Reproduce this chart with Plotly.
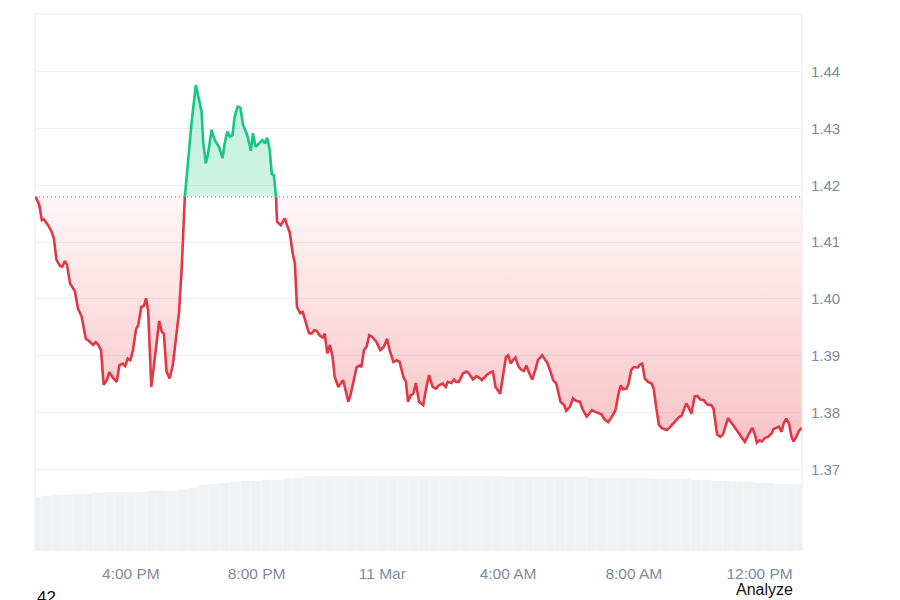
import plotly.graph_objects as go
import pandas as pd

# ---------------- data ----------------
START_DAY = "2025-03-10"
BASE_PRICE = 1.4180  # opening price (dotted reference line)

price_times = [
    "12:58", "13:05", "13:10", "13:14", "13:22", "13:29", "13:33", "13:38", "13:45", "13:49",
    "13:54", "13:58", "14:04", "14:09", "14:13", "14:19", "14:26", "14:34", "14:40", "14:48",
    "14:53", "14:58", "15:03", "15:08", "15:14", "15:19", "15:26", "15:33", "15:38", "15:44",
    "15:49", "15:54", "15:59", "16:04", "16:10", "16:14", "16:20", "16:25", "16:29", "16:33",
    "16:39", "16:44", "16:54", "16:59", "17:03", "17:08", "17:14", "17:20", "17:27", "17:32",
    "17:37", "17:40", "17:43", "17:49", "17:56", "18:04", "18:10", "18:15", "18:18", "18:23",
    "18:27", "18:34", "18:40", "18:48", "18:55", "18:59", "19:04", "19:09", "19:14", "19:18",
    "19:24", "19:29", "19:34", "19:42", "19:49", "19:53", "19:58", "20:05", "20:11", "20:16",
    "20:20", "20:25", "20:29", "20:33", "20:37", "20:39", "20:46", "20:54", "20:58", "21:03",
    "21:09", "21:13", "21:17", "21:23", "21:28", "21:34", "21:40", "21:45", "21:50", "21:54",
    "22:01", "22:06", "22:10", "22:15", "22:20", "22:25", "22:29", "22:36", "22:45", "22:50",
    "22:55", "22:59", "23:06", "23:11", "23:17", "23:20", "23:25", "23:30", "23:35", "23:41",
    "23:49", "23:56", "00:03", "00:09", "00:14", "00:21", "00:27", "00:33", "00:40", "00:45",
    "00:49", "00:54", "00:59", "01:04", "01:10", "01:18", "01:23", "01:29", "01:36", "01:42",
    "01:48", "01:55", "02:01", "02:05", "02:12", "02:17", "02:21", "02:26", "02:34", "02:41",
    "02:45", "02:53", "03:00", "03:04", "03:10", "03:19", "03:27", "03:31", "03:36", "03:41",
    "03:45", "03:50", "03:56", "04:00", "04:05", "04:09", "04:14", "04:19", "04:24", "04:30",
    "04:35", "04:39", "04:46", "04:52", "04:57", "05:05", "05:10", "05:15", "05:21", "05:26",
    "05:32", "05:40", "05:47", "05:51", "05:58", "06:04", "06:10", "06:17", "06:23", "06:30",
    "06:34", "06:40", "06:47", "06:53", "06:58", "07:04", "07:11", "07:17", "07:25", "07:30",
    "07:35", "07:39", "07:46", "07:50", "07:55", "08:00", "08:07", "08:11", "08:16", "08:21",
    "08:27", "08:34", "08:38", "08:43", "08:48", "08:54", "09:03", "09:10", "09:18", "09:26",
    "09:31", "09:40", "09:45", "09:50", "09:56", "10:01", "10:07", "10:13", "10:20", "10:28",
    "10:32", "10:39", "10:45", "10:50", "11:00", "11:06", "11:14", "11:23", "11:32", "11:40",
    "11:46", "11:51", "11:55", "12:00", "12:05", "12:10", "12:16", "12:23", "12:27", "12:32",
    "12:37", "12:42", "12:46", "12:51", "12:56", "13:01", "13:05", "13:10", "13:15", "13:20",
]

price_values = [
    1.4180, 1.4166, 1.4139, 1.4140, 1.4130, 1.4118, 1.4107, 1.4069, 1.4058, 1.4057,
    1.4067, 1.4060, 1.4027, 1.4019, 1.4014, 1.3983, 1.3969, 1.3930, 1.3926, 1.3919,
    1.3924, 1.3919, 1.3910, 1.3849, 1.3857, 1.3871, 1.3861, 1.3854, 1.3883, 1.3886,
    1.3882, 1.3895, 1.3892, 1.3910, 1.3947, 1.3954, 1.3986, 1.3988, 1.4001, 1.3979,
    1.3845, 1.3883, 1.3961, 1.3942, 1.3939, 1.3872, 1.3860, 1.3883, 1.3936, 1.3977,
    1.4054, 1.4130, 1.4180, 1.4242, 1.4312, 1.4377, 1.4348, 1.4330, 1.4277, 1.4239,
    1.4254, 1.4298, 1.4280, 1.4268, 1.4248, 1.4274, 1.4295, 1.4286, 1.4289, 1.4321,
    1.4339, 1.4337, 1.4307, 1.4289, 1.4261, 1.4292, 1.4268, 1.4274, 1.4280, 1.4274,
    1.4284, 1.4263, 1.4220, 1.4218, 1.4180, 1.4136, 1.4130, 1.4142, 1.4130, 1.4118,
    1.4080, 1.4063, 1.3986, 1.3975, 1.3977, 1.3960, 1.3940, 1.3939, 1.3945, 1.3944,
    1.3935, 1.3932, 1.3939, 1.3904, 1.3919, 1.3898, 1.3863, 1.3845, 1.3857, 1.3839,
    1.3819, 1.3830, 1.3857, 1.3880, 1.3883, 1.3880, 1.3910, 1.3916, 1.3936, 1.3933,
    1.3924, 1.3910, 1.3916, 1.3930, 1.3910, 1.3889, 1.3892, 1.3889, 1.3863, 1.3854,
    1.3819, 1.3830, 1.3833, 1.3852, 1.3819, 1.3813, 1.3839, 1.3866, 1.3845, 1.3842,
    1.3848, 1.3851, 1.3845, 1.3854, 1.3852, 1.3858, 1.3854, 1.3854, 1.3869, 1.3872,
    1.3869, 1.3858, 1.3864, 1.3862, 1.3857, 1.3866, 1.3871, 1.3872, 1.3845, 1.3839,
    1.3833, 1.3863, 1.3898, 1.3901, 1.3886, 1.3892, 1.3897, 1.3883, 1.3876, 1.3873,
    1.3883, 1.3872, 1.3858, 1.3875, 1.3892, 1.3901, 1.3895, 1.3887, 1.3872, 1.3857,
    1.3851, 1.3819, 1.3813, 1.3803, 1.3810, 1.3825, 1.3820, 1.3819, 1.3804, 1.3793,
    1.3797, 1.3804, 1.3801, 1.3799, 1.3797, 1.3788, 1.3783, 1.3791, 1.3804, 1.3830,
    1.3848, 1.3841, 1.3842, 1.3851, 1.3875, 1.3880, 1.3879, 1.3884, 1.3886, 1.3860,
    1.3854, 1.3851, 1.3842, 1.3807, 1.3778, 1.3772, 1.3769, 1.3775, 1.3783, 1.3792,
    1.3794, 1.3816, 1.3808, 1.3798, 1.3828, 1.3829, 1.3823, 1.3822, 1.3814, 1.3813,
    1.3807, 1.3761, 1.3757, 1.3761, 1.3790, 1.3783, 1.3772, 1.3760, 1.3748, 1.3763,
    1.3773, 1.3761, 1.3747, 1.3751, 1.3749, 1.3755, 1.3757, 1.3763, 1.3771, 1.3773,
    1.3775, 1.3766, 1.3781, 1.3789, 1.3781, 1.3757, 1.3749, 1.3757, 1.3767, 1.3773,
]

# 24h volume (relative units), one bar every 20 minutes starting 13:00
volume_start = "2025-03-10 13:00"
volume_step_min = 20
volume_values = [
    54, 55, 56, 56.5, 57, 57.5, 58.5, 59, 59, 59.5,
    59.5, 60, 60, 60, 61, 63, 66, 67.5, 68.5, 69.5,
    70, 70.5, 71, 71.5, 72, 73.5, 75, 75, 75, 75,
    75.5, 75.5, 75.5, 75.5, 75.5, 75.5, 75, 75, 75, 75.5,
    75.5, 75, 75, 75, 75, 74.5, 74.5, 74.5, 74.5, 74,
    74, 74, 74, 73.5, 73.5, 73.5, 73, 73, 73, 72.5,
    72.5, 72, 72, 71.5, 71, 70.5, 70, 69.5, 69, 68.5,
    68, 67.5, 67, 67,
]

x_tick_vals = ["2025-03-10 16:00", "2025-03-10 20:00", "2025-03-11 00:00",
               "2025-03-11 04:00", "2025-03-11 08:00", "2025-03-11 12:00"]
x_tick_text = ["4:00 PM", "8:00 PM", "11 Mar", "4:00 AM", "8:00 AM", "12:00 PM"]
y_tick_vals = [1.37, 1.38, 1.39, 1.40, 1.41, 1.42, 1.43, 1.44]

# ---------------- build timestamps ----------------
day = pd.Timestamp(START_DAY)
stamps = []
prev = None
for t in price_times:
    hh, mm = map(int, t.split(":"))
    if prev is not None and (hh, mm) < prev:
        day = day + pd.Timedelta(days=1)
    prev = (hh, mm)
    stamps.append(day + pd.Timedelta(hours=hh, minutes=mm))

vol_x = pd.date_range(volume_start, periods=len(volume_values), freq=f"{volume_step_min}min")

RED = "#e23744"
GREEN = "#16c784"
Y_MIN, Y_MAX = 1.3556, 1.4502

red_line = [v if v <= BASE_PRICE else None for v in price_values]
green_line = [v if v >= BASE_PRICE else None for v in price_values]

b = (BASE_PRICE - Y_MIN) / (Y_MAX - Y_MIN)

fig = go.Figure()

# volume bars (secondary axis)
fig.add_trace(go.Bar(
    x=vol_x, y=volume_values, yaxis="y2",
    marker=dict(color="#eff2f5", line=dict(width=0.5, color="rgba(255,255,255,0.35)")),
    width=volume_step_min * 60 * 1000, hoverinfo="skip", showlegend=False,
))

# baseline (for fill reference)
fig.add_trace(go.Scatter(
    x=stamps, y=[BASE_PRICE] * len(stamps), mode="lines",
    line=dict(width=0, color="rgba(0,0,0,0)"), hoverinfo="skip", showlegend=False,
))
# area between price and baseline
fig.add_trace(go.Scatter(
    x=stamps, y=price_values, mode="lines", fill="tonexty",
    line=dict(width=0, color="rgba(0,0,0,0)"),
    fillgradient=dict(
        type="vertical", start=Y_MIN, stop=Y_MAX,
        colorscale=[
            [0.0, "rgba(234,57,67,0.42)"],
            [b, "rgba(234,57,67,0.04)"],
            [min(b + 0.0005, 1), "rgba(22,199,132,0.20)"],
            [1.0, "rgba(22,199,132,0.32)"],
        ],
    ),
    hoverinfo="skip", showlegend=False,
))
# price line, coloured by side of baseline
fig.add_trace(go.Scatter(
    x=stamps, y=red_line, mode="lines", connectgaps=False,
    line=dict(color=RED, width=2.6), showlegend=False,
))
fig.add_trace(go.Scatter(
    x=stamps, y=green_line, mode="lines", connectgaps=False,
    line=dict(color=GREEN, width=2.6), showlegend=False,
))

# dotted baseline
fig.add_shape(type="line", xref="paper", x0=0, x1=1, yref="y", y0=BASE_PRICE, y1=BASE_PRICE,
              line=dict(color="#8a8f98", width=1.2, dash="1px,3px"), layer="above")
# frame lines (left, top, right)
for x0, y0, x1, y1 in [(0, 0, 0, 1), (0, 1, 1, 1), (1, 0, 1, 1)]:
    fig.add_shape(type="line", xref="paper", yref="paper", x0=x0, y0=y0, x1=x1, y1=y1,
                  line=dict(color="#e6e9ee", width=1), layer="below")

font_family = "Liberation Sans, Arial, sans-serif"

fig.update_layout(
    width=900, height=600,
    margin=dict(l=27, r=106, t=6, b=57, autoexpand=False),
    paper_bgcolor="white", plot_bgcolor="white",
    font=dict(family=font_family, color="#808a9d", size=15),
    bargap=0,
    xaxis=dict(
        type="date",
        range=["2025-03-10 12:57", "2025-03-11 13:21"],
        tickvals=x_tick_vals, ticktext=x_tick_text,
        showgrid=False, zeroline=False, showline=False, ticks="",
        tickfont=dict(size=15.5, color="#808a9d"),
        ticklabelstandoff=11,
    ),
    yaxis=dict(
        side="right", range=[Y_MIN, Y_MAX],
        tickvals=y_tick_vals, tickformat=".2f",
        showgrid=True, gridcolor="#eff1f4", gridwidth=1,
        zeroline=False, showline=False, ticks="",
        tickfont=dict(size=15, color="#808a9d"),
        ticklabelstandoff=8,
    ),
    yaxis2=dict(overlaying="y", range=[0, 537], visible=False, fixedrange=True),
    annotations=[
        dict(text="42", xref="paper", yref="paper", x=0, y=-0.086, xanchor="left", yanchor="middle",
             showarrow=False, font=dict(family=font_family, size=17, color="#111111")),
        dict(text="Analyze", xref="paper", yref="paper", x=0.991, y=-0.0726, xanchor="right",
             yanchor="middle", showarrow=False, font=dict(family=font_family, size=16, color="#111111")),
    ],
)

fig.write_html("out.html")
